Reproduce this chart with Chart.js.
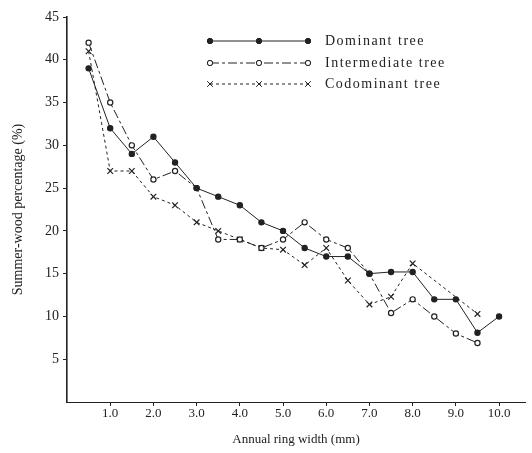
<!DOCTYPE html>
<html>
<head>
<meta charset="utf-8">
<script src="https://cdn.jsdelivr.net/npm/chart.js@4"></script>
<style>
  html, body { margin: 0; padding: 0; background: #fff; }
  #wrap { width: 532px; height: 453px; }
</style>
</head>
<body>
<div id="wrap"><canvas id="chart" width="532" height="453"></canvas></div>
<script>
// annual ring width (mm)
const widths = [0.5, 1.0, 1.5, 2.0, 2.5, 3.0, 3.5, 4.0, 4.5, 5.0, 5.5, 6.0, 6.5, 7.0, 7.5, 8.0, 8.5, 9.0, 9.5, 10.0];
// summer-wood percentage (%)
const dominant     = [39, 32, 29, 31, 28, 25, 24, 23, 21, 20, 18, 17, 17, 15, 15.2, 15.2, 12, 12, 8.1, 10];
const intermediate = [42, 35, 30, 26, 27, 25, 19, 19, 18, 19, 21, 19, 18, 15, 10.4, 12, 10, 8, 6.9, null];
const codominant   = [41, 27, 27, 24, 23, 21, 20, 19, 18, 17.8, 16, 18, 14.2, 11.4, 12.3, 16.2, null, null, 10.3, null];

const xTicks = [1, 2, 3, 4, 5, 6, 7, 8, 9, 10];
const yTicks = [5, 10, 15, 20, 25, 30, 35, 40, 45];

const seriesNames = ['Dominant tree', 'Intermediate tree', 'Codominant tree'];

const ink = '#222';
const serif = '"Liberation Serif", "DejaVu Serif", serif';

function toPoints(arr) {
  return widths.map((w, i) => ({ x: w, y: arr[i] }));
}

const styles = [
  { dash: [], point: 'circle', radius: 2.6, fill: ink },
  { dash: [9, 3, 3, 3], point: 'circle', radius: 2.6, fill: '#fff' },
  { dash: [3, 3], point: 'crossRot', radius: 4, fill: ink }
];

// legend drawn by hand: line with three markers, like the printed figure
const legendPlugin = {
  id: 'printLegend',
  afterDatasetsDraw(chart) {
    const ctx = chart.ctx;
    const rows = [41, 63, 84];
    ctx.save();
    styles.forEach((s, i) => {
      const y = rows[i];
      ctx.strokeStyle = ink;
      ctx.lineWidth = 1;
      ctx.setLineDash(s.dash);
      ctx.beginPath();
      ctx.moveTo(210, y);
      ctx.lineTo(308, y);
      ctx.stroke();
      ctx.setLineDash([]);
      [210, 259, 308].forEach(px => {
        Chart.helpers.drawPoint(ctx, {
          pointStyle: s.point, radius: s.radius, borderWidth: 1.2
        }, px, y);
        ctx.fillStyle = s.fill;
        if (s.point === 'circle') {
          ctx.beginPath();
          ctx.arc(px, y, s.radius, 0, Math.PI * 2);
          ctx.fill();
          ctx.stroke();
        }
      });
      ctx.fillStyle = ink;
      ctx.font = '14px ' + serif;
      ctx.letterSpacing = '1.5px';
      ctx.textBaseline = 'middle';
      ctx.textAlign = 'left';
      ctx.fillText(seriesNames[i], 325, y);
      ctx.letterSpacing = '0px';
    });
    ctx.restore();
  }
};

new Chart(document.getElementById('chart'), {
  type: 'line',
  data: {
    datasets: [dominant, intermediate, codominant].map((arr, i) => ({
      label: seriesNames[i],
      data: toPoints(arr),
      borderColor: ink,
      borderWidth: 1,
      borderDash: styles[i].dash,
      pointStyle: styles[i].point,
      pointRadius: styles[i].radius,
      pointBorderWidth: 1.2,
      pointBorderColor: ink,
      pointBackgroundColor: styles[i].fill,
      spanGaps: true,
      tension: 0
    }))
  },
  options: {
    responsive: false,
    animation: false,
    layout: { padding: { left: 0, right: 7, top: 17, bottom: 0 } },
    plugins: {
      legend: { display: false },
      tooltip: { enabled: false }
    },
    scales: {
      x: {
        type: 'linear',
        min: 0,
        max: 10.6,
        afterBuildTicks(scale) {
          scale.ticks = xTicks.map(v => ({ value: v }));
        },
        afterFit(scale) { scale.height = 51; },
        ticks: {
          color: ink,
          font: { family: serif, size: 13 },
          padding: 0,
          callback: v => Number(v).toFixed(1)
        },
        grid: { display: true, drawOnChartArea: false, tickLength: 4, color: ink },
        border: { display: true, color: ink, width: 1 },
        title: {
          display: true,
          text: 'Annual ring width (mm)',
          color: ink,
          font: { family: serif, size: 13 },
          padding: { top: 4, bottom: 6 }
        }
      },
      y: {
        min: 0,
        max: 45,
        afterBuildTicks(scale) {
          scale.ticks = yTicks.map(v => ({ value: v }));
        },
        afterFit(scale) { scale.width = 67; },
        ticks: {
          color: ink,
          font: { family: serif, size: 14 },
          padding: 4
        },
        grid: { display: true, drawOnChartArea: false, tickLength: 4, color: ink },
        border: { display: true, color: ink, width: 1.6 },
        title: {
          display: true,
          text: 'Summer-wood percentage (%)',
          color: ink,
          font: { family: serif, size: 14 },
          padding: { top: 10, bottom: 2 }
        }
      }
    }
  },
  plugins: [legendPlugin]
});
</script>
</body>
</html>
